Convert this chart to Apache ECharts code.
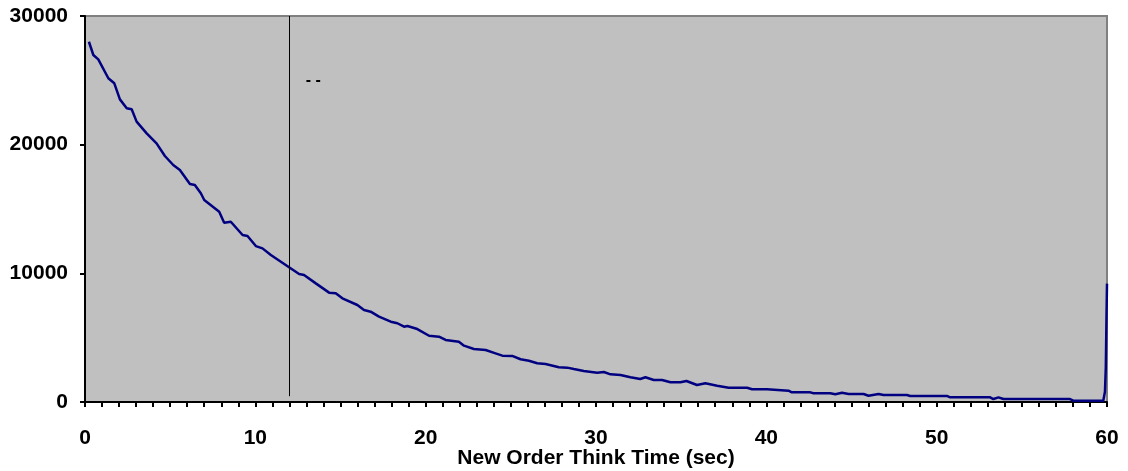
<!DOCTYPE html>
<html>
<head>
<meta charset="utf-8">
<script src="https://cdn.jsdelivr.net/npm/echarts@6/dist/echarts.min.js"></script>
<style>html,body{margin:0;padding:0;background:#fff}#c{width:1128px;height:471px}</style>
</head>
<body>
<div id="c"></div>
<script>
const thinkTime = [0.23,0.49,0.78,1.37,1.72,2.05,2.45,2.74,3.03,3.62,4.20,4.69,5.18,5.57,6.16,6.45,6.80,7.00,7.88,8.17,8.56,9.25,9.54,10.03,10.42,10.91,11.50,11.98,12.57,12.86,13.55,14.33,14.72,15.11,15.99,16.38,16.77,17.26,17.95,18.34,18.73,18.93,19.51,20.20,20.78,21.17,21.95,22.25,22.83,23.52,24.10,24.50,25.08,25.57,26.06,26.55,27.04,27.82,28.31,28.70,29.28,30.07,30.46,30.85,31.44,32.02,32.60,32.90,33.39,33.88,34.37,34.96,35.31,35.93,36.42,37.11,37.79,38.87,39.16,40.04,40.14,41.30,41.50,42.58,42.77,43.75,44.05,44.44,44.83,45.71,46.00,46.59,46.88,48.25,48.45,50.11,50.20,50.60,50.79,52.74,52.84,53.14,53.33,53.63,53.92,57.83,58.02,59.78,59.88,59.93,59.97,60.00];
const counts = [28000,26970,26630,25160,24770,23520,22830,22750,21790,20880,20100,19120,18420,18030,16940,16870,16220,15700,14790,13930,14010,12980,12900,12120,11940,11420,10900,10470,9950,9870,9220,8500,8450,8060,7540,7150,7020,6630,6240,6120,5850,5910,5670,5150,5080,4820,4690,4380,4120,4040,3780,3600,3580,3320,3210,3010,2950,2700,2670,2560,2410,2280,2330,2150,2100,1920,1790,1920,1710,1710,1530,1530,1630,1320,1450,1270,1110,1110,990,990,880,880,750,750,680,680,600,720,620,620,490,620,540,540,470,470,340,470,360,360,230,360,230,360,230,230,100,100,800,2700,6600,9200];
const yTicks = [0, 10000, 20000, 30000];
const xTicks = [0, 10, 20, 30, 40, 50, 60];
const markerTime = 12;
const markerTop = 30000;
const markerBottom = 450;
const noteText = '- -';
const notePos = [13.4, 25000];
const xTitle = 'New Order Think Time (sec)';

const chart = echarts.init(document.getElementById('c'), null, {renderer: 'canvas'});
const font = {fontFamily: 'Liberation Sans, Arial, sans-serif', fontWeight: 'bold', fontSize: 21, color: '#000'};
chart.setOption({
  animation: false,
  grid: {left: 85, right: 21, top: 16, bottom: 69, show: true, containLabel: false, outerBoundsMode: 'none', backgroundColor: '#c0c0c0', borderColor: '#808080', borderWidth: 2},
  xAxis: {
    type: 'value', min: xTicks[0], max: xTicks[xTicks.length - 1], interval: 10,
    name: xTitle, nameLocation: 'middle', nameGap: 46, nameMoveOverlap: false,
    nameTextStyle: Object.assign({verticalAlign: 'top'}, font),
    axisLine: {show: true, onZero: false, lineStyle: {color: '#000', width: 2}},
    axisTick: {show: true, inside: false, length: 5, lineStyle: {color: '#000', width: 2}},
    minorTick: {show: true, splitNumber: 10, length: 5, lineStyle: {color: '#000', width: 2}},
    axisLabel: Object.assign({margin: 26, formatter: v => String(v)}, font),
    splitLine: {show: false}
  },
  yAxis: {
    type: 'value', min: yTicks[0], max: yTicks[yTicks.length - 1], interval: 10000,
    axisLine: {show: true, lineStyle: {color: '#000', width: 2}},
    axisTick: {show: true, inside: false, length: 5, lineStyle: {color: '#000', width: 2}},
    axisLabel: Object.assign({margin: 17, formatter: v => String(v)}, font),
    splitLine: {show: false}
  },
  series: [{
    type: 'line',
    data: thinkTime.map((t, i) => [t, counts[i]]),
    showSymbol: false,
    lineStyle: {color: '#000080', width: 2.5},
    itemStyle: {color: '#000080'},
    markLine: {
      silent: true, symbol: 'none', label: {show: false},
      lineStyle: {color: '#000', width: 1, type: 'solid'},
      data: [[{coord: [markerTime, markerTop]}, {coord: [markerTime, markerBottom]}]]
    },
    markPoint: {
      silent: true, symbol: 'circle', symbolSize: 0,
      label: {show: true, formatter: noteText, color: '#000', fontSize: 16, fontWeight: 'bold', fontFamily: 'Liberation Sans, Arial, sans-serif'},
      data: [{coord: notePos}]
    }
  }]
});
</script>
</body>
</html>
